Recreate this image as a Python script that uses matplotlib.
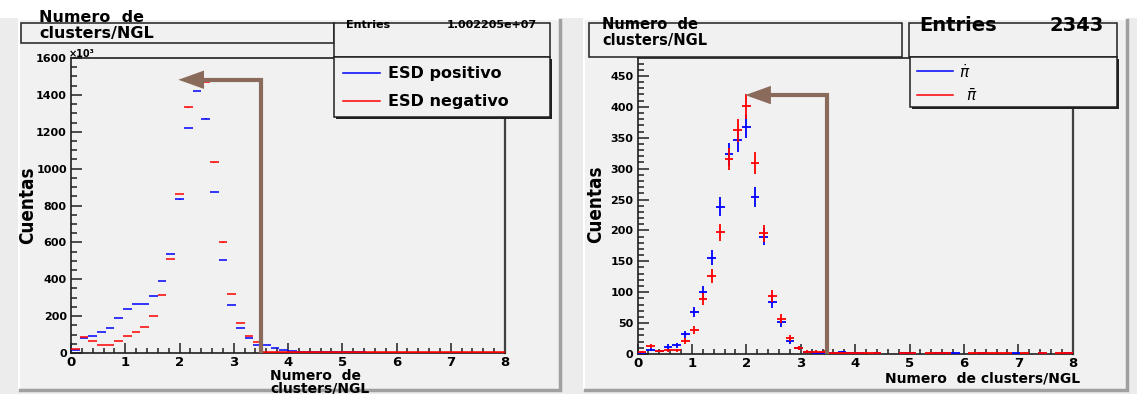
import numpy as np
import matplotlib
matplotlib.use("Agg")
import matplotlib.pyplot as plt
from matplotlib import font_manager
from matplotlib.patches import Rectangle
from matplotlib.ticker import MultipleLocator

# ---------------------------------------------------------------- data
bin_edges = np.linspace(0.0, 8.0, 51)           # 50 bins of 0.16 clusters/NGL

# ESD tracks (counts in units of 10^3)
esd_positivo = [18, 83, 94, 116, 136, 190, 239, 266, 266, 309, 392, 537, 833, 1219,
                1421, 1271, 873, 503, 262, 137, 81, 45,
                45, 25, 18, 12, 8, 6, 5, 4, 4, 3, 3, 3, 2, 2, 2, 2, 2, 1, 1, 1,
                1, 1, 1, 1, 1, 1, 1, 1]
esd_negativo = [23, 89, 63, 42, 42, 63, 90, 112, 139, 200, 315, 510, 862, 1332,
                1485, 1470, 1034, 600, 318, 165, 94, 61,
                8, 6, 5, 5, 4, 5, 4, 4, 5, 4, 4, 4, 5, 4, 4, 4, 4, 4, 4, 4,
                5, 4, 4, 4, 4, 4, 4, 4]
esd_entries = "1.002205e+07"

# identified pions (counts)
pion_pos = [1, 7, 5, 12, 14, 32, 68, 100, 156, 238, 323, 346, 368, 254,
            190, 84, 51, 21, 10, 3, 1, 1,
            2, 3, 2, 1, 0, 1, 0, 0, 1, 1, 0, 0, 1, 1, 1, 0, 0, 1, 0, 0,
            0, 1, 0, 0, 1, 0, 0, 1]
pion_neg = [3, 13, 5, 6, 6, 21, 39, 89, 126, 197, 316, 362, 401, 309,
            195, 94, 57, 26, 10, 4, 4, 4,
            1, 2, 1, 1, 1, 1, 0, 0, 1, 1, 0, 1, 1, 1, 0, 0, 1, 1, 1, 1,
            1, 0, 2, 0, 1, 0, 1, 1]
pion_entries = "2343"

# cut annotation: vertical at the cut value, pointing back to the peak
esd_cut = (3.5, 1482, 1.98)
pion_cut = (3.49, 419, 1.98)

title_text = "Numero  de\nclusters/NGL"
ylabel_text = "Cuentas"

# ---------------------------------------------------------------- style
W, H = 1137, 394
PAD = "#f1f1f1"
ARROW = "#8a6a5a"
BOLD = dict(family="DejaVu Sans", fontweight="bold")

fonts = font_manager.fontManager.ttflist
names = {f.name for f in fonts}
has_condensed = any(f.name == "DejaVu Sans" and f.stretch == "condensed" for f in fonts)
if "Liberation Sans Narrow" in names:
    ylab_font = dict(family="Liberation Sans Narrow", fontweight="bold", fontsize=16)
elif has_condensed:
    ylab_font = dict(family="DejaVu Sans", fontstretch="condensed",
                     fontweight="bold", fontsize=13.5)
else:
    ylab_font = dict(family="DejaVu Sans", fontweight="bold", fontsize=12.5)

fig = plt.figure(figsize=(W / 100, H / 100), dpi=100)
fig.patch.set_facecolor("white")


def px_rect(x0, y0, x1, y1):
    return [x0 / W, 1 - y1 / H, (x1 - x0) / W, (y1 - y0) / H]


# background layer (pads) in pixel coordinates
bg = fig.add_axes([0, 0, 1, 1], zorder=0)
bg.set_xlim(0, W)
bg.set_ylim(H, 0)
bg.axis("off")
bg.add_patch(Rectangle((0, 18), W, H - 18, color="#ececec", lw=0))
for (x0, y0, x1, y1) in [(19, 19, 560, 390), (584, 19, 1127, 390)]:
    bg.add_patch(Rectangle((x0, y0), x1 - x0, y1 - y0, color=PAD, lw=0))
    bg.plot([x0, x0, x1], [y1, y0, y0], color="white", lw=1.5)
    bg.plot([x0 + 1, x1, x1], [y1, y1, y0 + 1], color="#a0a0a0", lw=2.5,
            solid_joinstyle="miter")

centers = 0.5 * (bin_edges[:-1] + bin_edges[1:])
half_w = 0.5 * (bin_edges[1] - bin_edges[0])


def draw_hist(ax, values, color, scale, lw):
    v = np.asarray(values, dtype=float)
    m = v > 0
    err = np.sqrt(v[m] * scale) / scale
    ax.errorbar(centers[m], v[m], xerr=half_w, yerr=err, fmt="none",
                ecolor=color, elinewidth=lw, capsize=0, zorder=3)


def style_axes(ax, ymax, ymajor, yminor, ylabsize):
    ax.set_facecolor("none")
    ax.set_xlim(0, 8)
    ax.set_ylim(0, ymax)
    ax.xaxis.set_major_locator(MultipleLocator(1))
    ax.xaxis.set_minor_locator(MultipleLocator(0.2))
    ax.yaxis.set_major_locator(MultipleLocator(ymajor))
    ax.yaxis.set_minor_locator(MultipleLocator(yminor))
    ax.tick_params(axis="both", which="both", direction="in", color="#202020",
                   width=1.1, top=False, right=False)
    ax.tick_params(axis="x", which="major", length=7, pad=2.5, labelsize=9.5)
    ax.tick_params(axis="x", which="minor", length=3.6)
    ax.tick_params(axis="y", which="major", length=8, pad=3, labelsize=ylabsize)
    ax.tick_params(axis="y", which="minor", length=4)
    for lab in ax.get_xticklabels() + ax.get_yticklabels():
        lab.set_fontweight("bold")
        lab.set_family("DejaVu Sans")
    for s in ("left", "bottom", "top"):
        ax.spines[s].set_color("#202020")
        ax.spines[s].set_linewidth(1.2)
    ax.spines["right"].set_color("#404040")
    ax.spines["right"].set_linewidth(1.6)


def draw_cut(ax, cut):
    xc, yc, xtip = cut
    ax.annotate("", xy=(xtip, yc), xytext=(xc, 0), xycoords="data",
                arrowprops=dict(arrowstyle="-|>,head_length=1.25,head_width=0.45",
                                connectionstyle="angle,angleA=90,angleB=0,rad=0",
                                color=ARROW, lw=3, shrinkA=0, shrinkB=0,
                                joinstyle="miter", capstyle="butt"),
                zorder=6, annotation_clip=False)


# ---------------------------------------------------------------- left: ESD
ax1 = fig.add_axes(px_rect(71, 58, 505, 353), zorder=1)
style_axes(ax1, 1600, 200, 50, 8)
draw_hist(ax1, esd_positivo, "blue", 1000.0, 1.1)
draw_hist(ax1, esd_negativo, "red", 1000.0, 1.1)
ax1.axhline(0, color="red", lw=1.2, zorder=4, xmin=3.5 / 8, xmax=1.0)
draw_cut(ax1, esd_cut)

# ---------------------------------------------------------------- right: pions
ax2 = fig.add_axes(px_rect(637.6, 58, 1072.7, 354), zorder=1)
style_axes(ax2, 479, 50, 10, 8)
draw_hist(ax2, pion_pos, "blue", 1.0, 1.3)
draw_hist(ax2, pion_neg, "red", 1.0, 1.3)
draw_cut(ax2, pion_cut)

# ---------------------------------------------------------------- overlay: boxes and text
ov = fig.add_axes([0, 0, 1, 1], zorder=5)
ov.set_xlim(0, W)
ov.set_ylim(H, 0)
ov.axis("off")
ov.patch.set_alpha(0)


def box(x0, y0, x1, y1, shadow=False):
    if shadow:
        ov.add_patch(Rectangle((x0 + 2, y0 + 2), x1 - x0, y1 - y0,
                               facecolor="#202020", edgecolor="none"))
    ov.add_patch(Rectangle((x0, y0), x1 - x0, y1 - y0, facecolor=PAD,
                           edgecolor="#202020", lw=1.1))


# left pad
box(21, 22.7, 334, 43.3)
box(334, 22.7, 550, 57)
box(334, 57, 550, 117, shadow=True)
t1, t2 = title_text.split("\n")
ov.text(39, 21.7, t1, fontsize=11.5, va="baseline", **BOLD)
ov.text(39, 38, t2, fontsize=11.5, va="baseline", **BOLD)
ov.text(346, 28, "Entries", fontsize=8, va="baseline", **BOLD)
ov.text(537, 28, esd_entries, fontsize=8, va="baseline", ha="right", **BOLD)
ov.plot([343, 380], [73, 73], color="blue", lw=1.1)
ov.plot([343, 380], [101, 101], color="red", lw=1.1)
ov.text(388, 73, "ESD positivo", fontsize=11.5, va="center", **BOLD)
ov.text(388, 101, "ESD negativo", fontsize=11.5, va="center", **BOLD)
ov.text(69, 56.5, "×10³", fontsize=7, va="baseline", **BOLD)
ov.text(270, 380, "Numero  de", fontsize=10, va="baseline", **BOLD)
ov.text(270, 392, "clusters/NGL", fontsize=10, va="baseline", **BOLD)
ov.text(28, 205, ylabel_text, rotation=90, ha="center", va="center", **ylab_font)

# right pad
box(589, 22.7, 901.5, 57.3)
box(908.6, 22.7, 1117, 57.3)
box(909.7, 57.3, 1117, 107.3, shadow=True)
ov.text(602, 29, t1, fontsize=10.5, va="baseline", **BOLD)
ov.text(602, 45, t2, fontsize=10.5, va="baseline", **BOLD)
ov.text(919, 31, "Entries", fontsize=14, va="baseline", **BOLD)
ov.text(1104, 31, pion_entries, fontsize=14, va="baseline", ha="right", **BOLD)
ov.plot([917, 953], [70.7, 70.7], color="blue", lw=1.1)
ov.plot([917, 953], [95, 95], color="red", lw=1.1)
ov.text(959, 72, r"$\dot{\pi}$", fontsize=11, va="center", **BOLD)
ov.text(966, 96, r"$\bar{\pi}$", fontsize=11, va="center", **BOLD)
ov.text(1080, 382, "Numero  de clusters/NGL", fontsize=10, va="baseline",
        ha="right", **BOLD)
ov.text(596, 204, ylabel_text, rotation=90, ha="center", va="center", **ylab_font)

fig.savefig("out.png", dpi=100)
